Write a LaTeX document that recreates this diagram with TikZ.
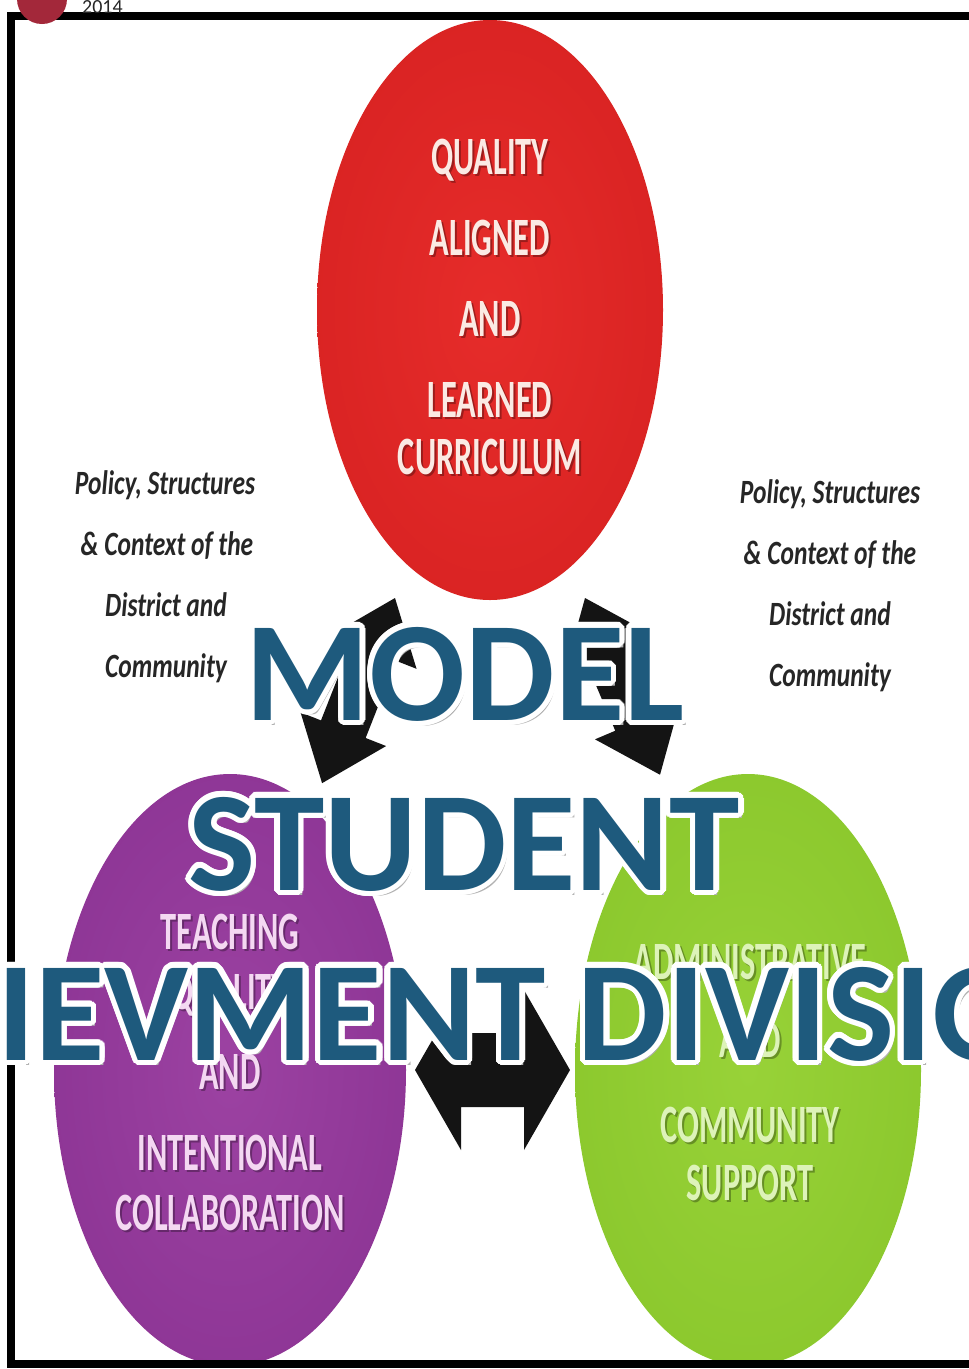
\documentclass[tikz,border=0pt]{standalone}
\usepackage{fontspec}
\setmainfont{Carlito}
\newfontfamily\bigfont{Carlito}
\newfontfamily\circfont[FakeStretch=0.6]{Carlito}
\newfontfamily\sidefont[FakeStretch=0.75]{Carlito}
\definecolor{modelblue}{HTML}{1E5A7D}
\definecolor{dotred}{HTML}{A3283A}
\definecolor{redin}{HTML}{E62C2A}
\definecolor{redmid}{HTML}{D82222}
\definecolor{redout}{HTML}{B81A1C}
\definecolor{purin}{HTML}{9C42A2}
\definecolor{purmid}{HTML}{8C3494}
\definecolor{purout}{HTML}{742480}
\definecolor{grnin}{HTML}{98D238}
\definecolor{grnmid}{HTML}{8AC72C}
\definecolor{grnout}{HTML}{6EA61E}
\definecolor{redtxt}{HTML}{FBEAE4}
\definecolor{purtxt}{HTML}{F4D8F2}
\definecolor{grntxt}{HTML}{DDF3B8}
\pgfdeclareradialshading{redsh}{\pgfpoint{0bp}{0bp}}{color(0bp)=(redin); color(30bp)=(redmid); color(47bp)=(redout); color(50bp)=(redout!85!black)}
\pgfdeclareradialshading{pursh}{\pgfpoint{0bp}{0bp}}{color(0bp)=(purin); color(30bp)=(purmid); color(47bp)=(purout); color(50bp)=(purout!85!black)}
\pgfdeclareradialshading{grnsh}{\pgfpoint{0bp}{0bp}}{color(0bp)=(grnin); color(30bp)=(grnmid); color(47bp)=(grnout); color(50bp)=(grnout!85!black)}
\newcommand\bigline[4]{%
  \node[bigshadow] (#1s) at (#2+4,#3+5) {#4};
  \foreach \k in {0,...,23} {\node[bigwhite] (#1w\k) at ({#2+5.5*cos(15*\k)},{#3+5.5*sin(15*\k)}) {#4};}
  \node[bigtext] (#1) at (#2,#3) {#4};}
\newcommand\ctext[5]{%
  \node[circshadow] (#1s) at (#2+2,#3+2) {#5};
  \node[circtext,text=#4] (#1) at (#2,#3) {#5};}
\begin{document}
\begin{tikzpicture}[x=1pt,y=-1pt,
  bigtext/.style={font=\bigfont\bfseries\fontsize{142}{150}\selectfont, text=modelblue, inner sep=0pt, outer sep=0pt, anchor=base},
  bigwhite/.style={bigtext, text=white},
  bigshadow/.style={bigtext, text=black!30},
  circtext/.style={font=\circfont\bfseries\fontsize{54}{60}\selectfont, inner sep=0pt, outer sep=0pt, anchor=base},
  circshadow/.style={circtext, text=black, opacity=0.3},
  sidetext/.style={font=\sidefont\bfseries\itshape\fontsize{34}{38}\selectfont, text=black!85, inner sep=0pt, outer sep=0pt, anchor=base},
  arrowfill/.style={fill=black!92}]
\useasboundingbox (0,0) rectangle (969,1369);
\clip (0,0) rectangle (969,1369);
\fill[white] (0,0) rectangle (969,1369);
% circles
\shade[shading=redsh] (490,310) ellipse [x radius=173, y radius=290];
\shade[shading=pursh] (230,1070) ellipse [x radius=176, y radius=296];
\shade[shading=grnsh] (748,1070) ellipse [x radius=173, y radius=296];
% arrows
\begin{scope}[shift={(395,598)},rotate=-111.5]
  \fill[arrowfill] (0,0) -- (58,46) -- (58,24) -- (141,24) -- (141,46) -- (199,0) -- (141,-46) -- (141,-24) -- (58,-24) -- (58,-46) -- cycle;
\end{scope}
\begin{scope}[shift={(585,598)},rotate=-67]
  \fill[arrowfill] (0,0) -- (58,46) -- (58,24) -- (134,24) -- (134,46) -- (192,0) -- (134,-46) -- (134,-24) -- (58,-24) -- (58,-46) -- cycle;
\end{scope}
\begin{scope}[shift={(415,1070)}]
  \fill[arrowfill] (0,0) -- (46,80) -- (46,37) -- (109,37) -- (109,80) -- (155,0) -- (109,-80) -- (109,-37) -- (46,-37) -- (46,-80) -- cycle;
\end{scope}
% circle texts
\ctext{r1}{490}{174}{redtxt}{QUALITY}
\ctext{r2}{490}{255}{redtxt}{ALIGNED}
\ctext{r3}{490}{336}{redtxt}{AND}
\ctext{r4}{490}{417}{redtxt}{LEARNED}
\ctext{r5}{490}{474}{redtxt}{CURRICULUM}
\ctext{p1}{230}{949}{purtxt}{TEACHING}
\ctext{p2}{230}{1009}{purtxt}{QUALITY}
\ctext{p3}{230}{1089}{purtxt}{AND}
\ctext{p4}{230}{1170}{purtxt}{INTENTIONAL}
\ctext{p5}{230}{1230}{purtxt}{COLLABORATION}
\ctext{g1}{750}{979}{grntxt}{ADMINISTRATIVE}
\ctext{g2}{750}{1057}{grntxt}{AND}
\ctext{g3}{750}{1142}{grntxt}{COMMUNITY}
\ctext{g4}{750}{1200}{grntxt}{SUPPORT}
% side texts
\node[sidetext] (l1) at (165,494) {Policy, Structures};
\node[sidetext] (l2) at (167,555) {\& Context of the};
\node[sidetext] (l3) at (166,616) {District and};
\node[sidetext] (l4) at (166,677) {Community};
\node[sidetext] (q1) at (830,503) {Policy, Structures};
\node[sidetext] (q2) at (830,564) {\& Context of the};
\node[sidetext] (q3) at (830,625) {District and};
\node[sidetext] (q4) at (830,686) {Community};
% border
\draw[line width=8pt] (985,16) -- (11,16) -- (11,1364) -- (985,1364);
% header
\fill[dotred] (42,-1) circle (25);
\node[font=\fontsize{20}{22}\selectfont, text=black!85, inner sep=0pt, anchor=base west] (year) at (82,13) {2014};
% title overlay
\bigline{t1}{465}{720}{MODEL}
\bigline{t2}{464}{890}{STUDENT}
\bigline{t3}{435}{1060}{ACHIEVMENT DIVISION}
\end{tikzpicture}
\end{document}
